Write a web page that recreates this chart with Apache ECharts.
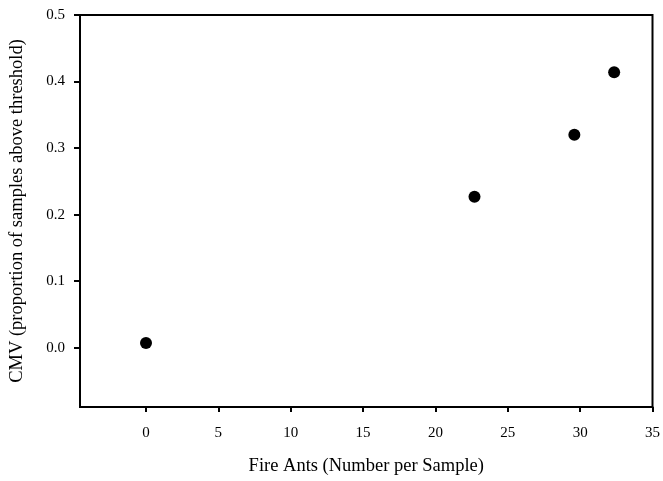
<!DOCTYPE html>
<html>
<head>
<meta charset="utf-8">
<script src="https://cdn.jsdelivr.net/npm/echarts@6/dist/echarts.min.js"></script>
<style>
  html, body { margin: 0; padding: 0; background: #fff; }
  #chart { width: 663px; height: 481px; }
</style>
</head>
<body>
<div id="chart"></div>
<script>
  // data
  var fireAnts = [0, 22.7, 29.6, 32.35];
  var cmv = [0.007, 0.227, 0.32, 0.414];
  var xTicks = [0, 5, 10, 15, 20, 25, 30, 35];
  var yTicks = [0, 0.1, 0.2, 0.3, 0.4, 0.5];

  var points = fireAnts.map(function (v, i) { return [v, cmv[i]]; });
  var font = 'Liberation Serif';

  var chart = echarts.init(document.getElementById('chart'));
  chart.setOption({
    animation: false,
    grid: {
      left: 77,
      right: 10,
      top: 15,
      bottom: 74,
      show: true,
      borderColor: '#000',
      borderWidth: 2
    },
    xAxis: {
      type: 'value',
      min: -4.56,
      max: 35,
      name: 'Fire Ants (Number per Sample)',
      nameLocation: 'middle',
      nameGap: 50,
      nameTextStyle: { fontFamily: font, fontSize: 18.5, color: '#000' },
      splitLine: { show: false },
      axisLine: { onZero: false, lineStyle: { color: '#000', width: 2 } },
      axisTick: { customValues: xTicks, length: 5, lineStyle: { color: '#000', width: 2 } },
      axisLabel: {
        customValues: xTicks,
        fontFamily: font, fontSize: 15, color: '#000', margin: 19
      }
    },
    yAxis: {
      type: 'value',
      min: -0.089,
      max: 0.5,
      name: 'CMV (proportion of samples above threshold)',
      nameLocation: 'middle',
      nameGap: 53,
      nameTextStyle: { fontFamily: font, fontSize: 18.5, color: '#000' },
      splitLine: { show: false },
      axisLine: { onZero: false, lineStyle: { color: '#000', width: 2 } },
      axisTick: { customValues: yTicks, length: 6, lineStyle: { color: '#000', width: 2 } },
      axisLabel: {
        customValues: yTicks,
        formatter: function (v) { return v.toFixed(1); },
        fontFamily: font, fontSize: 15, color: '#000', margin: 15
      }
    },
    series: [{
      type: 'scatter',
      data: points,
      symbol: 'circle',
      symbolSize: 12,
      itemStyle: { color: '#000', opacity: 1 }
    }]
  });
</script>
</body>
</html>
